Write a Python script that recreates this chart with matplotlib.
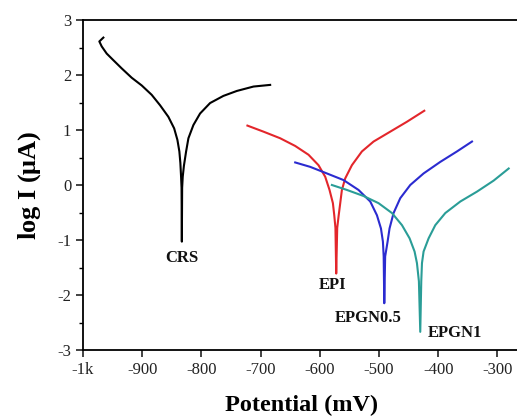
import matplotlib
matplotlib.use("Agg")
import matplotlib.pyplot as plt
from matplotlib.ticker import MultipleLocator

plt.rcParams['font.family'] = ['Liberation Serif', 'DejaVu Serif']
plt.rcParams['mathtext.fontset'] = 'custom'
plt.rcParams['mathtext.rm'] = 'Liberation Serif'
plt.rcParams['mathtext.bf'] = 'Liberation Serif:bold'
plt.rcParams['axes.unicode_minus'] = False

# Data (potential in mV, log I in log10 uA)
crs_E = [-965.6, -972.4, -968.4, -960, -948.8, -934.6, -917.7, -900.8, -884, -869.8,
         -855.8, -846, -840.5, -837.2, -835.5, -834.3, -833.5, -833, -832.5, -831.5,
         -829.5, -825.8, -821.9, -813.5, -802.2, -785.3, -762.8, -740.1, -712, -683.8]
crs_logI = [2.68, 2.61, 2.52, 2.39, 2.27, 2.12, 1.95, 1.81, 1.64, 1.45,
            1.24, 1.03, 0.82, 0.61, 0.4, 0.15, -0.05, -1.03, -0.05, 0.15,
            0.35, 0.61, 0.85, 1.09, 1.30, 1.49, 1.62, 1.71, 1.79, 1.82]

epi_E = [-722.2, -695.1, -666.9, -641.5, -619, -602.1, -590.8, -583.5, -577.8, -575.5,
         -573.5, -572.2, -570.5, -568, -565.4, -562.6, -557, -545.7, -528.8, -509.1,
         -480.9, -452.7, -423.4]
epi_logI = [1.08, 0.97, 0.85, 0.71, 0.55, 0.36, 0.15, -0.09, -0.33, -0.55,
            -0.78, -1.61, -0.78, -0.55, -0.33, -0.09, 0.12, 0.36, 0.61, 0.79,
            0.97, 1.15, 1.35]

epgn05_E = [-641.5, -616.2, -587.9, -559.9, -534.5, -514.7, -503.4, -496.6, -493.3, -492,
            -491, -489.5, -485.4, -482.1, -475.3, -464, -447.1, -424.6, -396.4, -368.2,
            -342.8]
epgn05_logI = [0.41, 0.33, 0.21, 0.09, -0.09, -0.30, -0.55, -0.79, -1.03, -1.3,
               -2.15, -1.3, -1.03, -0.79, -0.51, -0.24, 0.0, 0.21, 0.42, 0.61,
               0.79]

epgn1_E = [-579.5, -554.1, -526, -500.7, -478, -461.1, -448.2, -439.8, -435.8, -432.5,
           -430.2, -428.5, -427.3, -424.6, -416.1, -404.8, -387.9, -362.5, -334.3, -306.2,
           -280.8]
epgn1_logI = [0.0, -0.09, -0.2, -0.33, -0.51, -0.73, -0.97, -1.21, -1.42, -1.75,
              -2.67, -1.75, -1.42, -1.21, -0.97, -0.73, -0.51, -0.30, -0.12, 0.08,
              0.30]

labels = ["CRS", "EPI", "EPGN0.5", "EPGN1"]
label_E = [-833, -578, -518, -371]
label_logI = [-1.33, -1.82, -2.41, -2.69]

x_ticks = [-1000, -900, -800, -700, -600, -500, -400, -300]
x_ticklabels = ["-1k", "-900", "-800", "-700", "-600", "-500", "-400", "-300"]
y_ticks = [-3, -2, -1, 0, 1, 2, 3]

colors = ["black", "#e3262b", "#2b2bd0", "#2a9d97"]

fig = plt.figure(figsize=(5.17, 4.16), dpi=100)
ax = fig.add_axes([83/517, 1-350/416, 438/517, 330/416])

series = [(crs_E, crs_logI), (epi_E, epi_logI), (epgn05_E, epgn05_logI), (epgn1_E, epgn1_logI)]
for (E, L), c in zip(series, colors):
    ax.plot(E, L, color=c, lw=1.5, solid_joinstyle='round')

for t, e, l in zip(labels, label_E, label_logI):
    ax.text(e, l, t, ha='center', va='center', fontsize=12, fontweight='bold', color='#111111')

ax.set_xlim(-1000, -260)
ax.set_ylim(-3, 3)
ax.set_xticks(x_ticks)
ax.set_xticklabels(x_ticklabels)
ax.set_yticks(y_ticks)
ax.yaxis.set_minor_locator(MultipleLocator(0.5))
ax.tick_params(axis='both', which='major', direction='out', length=5, width=1.2,
               labelsize=12, colors='#222222')
ax.tick_params(axis='y', which='minor', direction='out', length=3, width=1.0)
ax.spines['right'].set_visible(False)
for s in ['left', 'top', 'bottom']:
    ax.spines[s].set_linewidth(1.3)

ax.set_xlabel("Potential (mV)", fontsize=17.5, fontweight='bold', labelpad=12)
ax.set_ylabel("log I ($\\mathbf{\\mu}$A)", fontsize=19, fontweight='bold', labelpad=10)

fig.savefig("out.png", dpi=100)
